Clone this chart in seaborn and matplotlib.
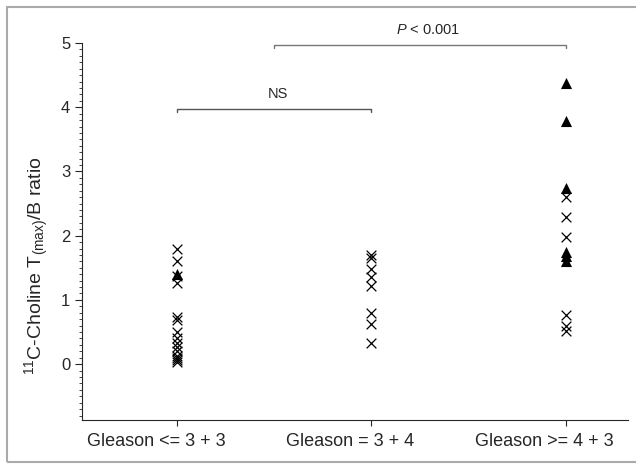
import pandas as pd
import numpy as np
import seaborn as sns
import matplotlib.pyplot as plt
import matplotlib.transforms as mtransforms
from matplotlib.ticker import MultipleLocator
from matplotlib.patches import Rectangle

sns.set_style("ticks")
plt.rcParams['font.family'] = ['Liberation Sans', 'DejaVu Sans']
plt.rcParams['mathtext.fontset'] = 'custom'
plt.rcParams['mathtext.rm'] = 'Liberation Sans'
plt.rcParams['mathtext.it'] = 'Liberation Sans:italic'

groups = ["Gleason <= 3 + 3", "Gleason = 3 + 4", "Gleason >= 4 + 3"]

# crosses per group
cross_g1 = [1.80, 1.60, 1.38, 1.27, 0.73, 0.69, 0.50, 0.40, 0.33, 0.26, 0.20, 0.13, 0.10, 0.06, 0.03]
cross_g2 = [1.70, 1.66, 1.48, 1.35, 1.22, 0.80, 0.62, 0.33]
cross_g3 = [2.60, 2.29, 1.98, 0.77, 0.60, 0.52]
# triangles per group
tri_g1 = [1.41]
tri_g3 = [4.38, 3.78, 2.74, 1.74, 1.68, 1.60]

crosses = pd.DataFrame({
    "group": [groups[0]] * len(cross_g1) + [groups[1]] * len(cross_g2) + [groups[2]] * len(cross_g3),
    "ratio": cross_g1 + cross_g2 + cross_g3,
})
triangles = pd.DataFrame({
    "group": [groups[0]] * len(tri_g1) + [groups[2]] * len(tri_g3),
    "ratio": tri_g1 + tri_g3,
})

fig = plt.figure(figsize=(6.36, 4.66), dpi=100)
ax = fig.add_axes([0.129, 0.0987, 0.858, 0.809])

sns.stripplot(data=crosses, x="group", y="ratio", order=groups, jitter=False,
              marker="x", color="black", size=7, linewidth=0.9, ax=ax)
sns.stripplot(data=triangles, x="group", y="ratio", order=groups, jitter=False,
              marker="^", color="black", size=8, linewidth=0, ax=ax)

ax.set_xlim(-0.49, 2.32)
ax.set_ylim(-0.87, 5.0)
ax.yaxis.set_major_locator(MultipleLocator(1))
ax.yaxis.set_minor_locator(MultipleLocator(0.1))
ax.tick_params(axis="y", which="major", length=5, width=0.8, labelsize=12, direction="out")
ax.tick_params(axis="y", which="minor", length=2.5, width=0.6, direction="out")
ax.tick_params(axis="x", length=4, width=0.8, labelsize=13, pad=5, direction="out")
ax.set_xlabel("")
ax.set_ylabel(r"$^{11}$C-Choline T$_{\mathregular{(max)}}$/B ratio", fontsize=14)
ax.yaxis.set_label_coords(-0.056, 0.41)
sns.despine(ax=ax)
for s in ["left", "bottom"]:
    ax.spines[s].set_linewidth(0.8)

# category labels sit a little left of their ticks in the original
shift = mtransforms.ScaledTranslation(-0.21, 0, fig.dpi_scale_trans)
for lab in ax.get_xticklabels():
    lab.set_transform(lab.get_transform() + shift)

# significance brackets
ax.plot([0, 0, 1, 1], [3.93, 3.97, 3.97, 3.93], color="#555555", lw=1, clip_on=False)
ax.text(0.52, 4.1, "NS", ha="center", va="bottom", fontsize=10.5)
ax.plot([0.5, 0.5, 2, 2], [4.92, 4.97, 4.97, 4.92], color="#777777", lw=1, clip_on=False)
ax.text(1.29, 5.1, r"$\mathit{P}$ < 0.001", ha="center", va="bottom", fontsize=10.5)

# grey frame
fig.patches.append(Rectangle((0.011, 0.0086), 1.0, 0.976, transform=fig.transFigure,
                             fill=False, edgecolor="#aaaaaa", lw=1.5))

fig.savefig("out.png", dpi=100)
